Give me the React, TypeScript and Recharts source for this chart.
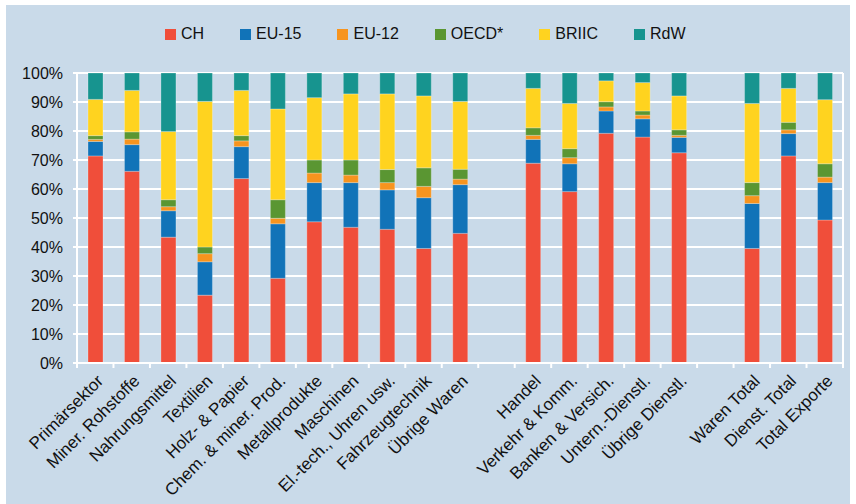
import React from "react";
import { BarChart, Bar, XAxis, YAxis, CartesianGrid, Legend } from "recharts";

const categories = [
  "Primärsektor", "Miner. Rohstoffe", "Nahrungsmittel", "Textilien", "Holz- & Papier",
  "Chem. & miner. Prod.", "Metallprodukte", "Maschinen", "El.-tech., Uhren usw.",
  "Fahrzeugtechnik", "Übrige Waren", "",
  "Handel", "Verkehr & Komm.", "Banken & Versich.", "Untern.-Dienstl.", "Übrige Dienstl.", "",
  "Waren Total", "Dienst. Total", "Total Exporte",
];

const CH = [71.4, 66.1, 43.4, 23.4, 63.6, 29.2, 48.7, 46.8, 46.1, 39.5, 44.7, null, 68.9, 59.1, 79.2, 77.9, 72.5, null, 39.5, 71.4, 49.3];
const EU15 = [5.0, 9.2, 9.1, 11.5, 11.0, 18.8, 13.5, 15.4, 13.6, 17.5, 16.8, null, 8.2, 9.6, 7.7, 6.3, 5.3, null, 15.5, 7.7, 12.9];
const EU12 = [0.7, 1.9, 1.4, 2.8, 2.0, 1.9, 3.3, 2.6, 2.5, 3.9, 1.9, null, 1.4, 2.1, 1.4, 1.3, 0.7, null, 2.7, 1.3, 1.9];
const OECD = [1.3, 2.5, 2.4, 2.3, 1.8, 6.4, 4.5, 5.2, 4.5, 6.4, 3.4, null, 2.6, 3.1, 1.8, 1.4, 1.9, null, 4.5, 2.6, 4.6];
const BRIIC = [12.5, 14.3, 23.5, 50.2, 15.6, 31.3, 21.5, 22.8, 26.1, 24.8, 23.4, null, 13.6, 15.6, 7.2, 9.8, 11.7, null, 27.3, 11.7, 22.1];
const RdW = [9.1, 6.0, 20.2, 9.8, 6.0, 12.4, 8.5, 7.2, 7.2, 7.9, 9.8, null, 5.3, 10.5, 2.7, 3.3, 7.9, null, 10.5, 5.3, 9.2];

const yTicks = [0, 10, 20, 30, 40, 50, 60, 70, 80, 90, 100];

const seriesDefs = [
  { key: "CH", label: "CH", color: "#f04e3a", values: CH },
  { key: "EU15", label: "EU-15", color: "#1173b8", values: EU15 },
  { key: "EU12", label: "EU-12", color: "#f7941e", values: EU12 },
  { key: "OECD", label: "OECD*", color: "#5a9632", values: OECD },
  { key: "BRIIC", label: "BRIIC", color: "#ffd31f", values: BRIIC },
  { key: "RdW", label: "RdW", color: "#17948f", values: RdW },
];

const data = categories.map((name, i) => {
  const row: Record<string, any> = { name };
  seriesDefs.forEach((s) => {
    row[s.key] = s.values[i];
  });
  return row;
});

const W = 856;
const H = 504;
const M = { top: 73, right: 13, left: 0, bottom: 0 };
const Y_W = 77;
const X_H = 141;
const BAND = (W - Y_W - M.right) / categories.length;
const FONT = "'Liberation Sans', Arial, Helvetica, sans-serif";

const XTick = (props: any) => {
  const { x, y, payload, index } = props;
  const label = categories[index] ?? payload.value;
  return (
    <g>
      <line x1={x - BAND / 2} x2={x - BAND / 2} y1={y} y2={y + 5} stroke="#ffffff" strokeWidth={2} />
      {index === categories.length - 1 && (
        <line x1={x + BAND / 2} x2={x + BAND / 2} y1={y} y2={y + 5} stroke="#ffffff" strokeWidth={2} />
      )}
      {label ? (
        <text
          transform={`translate(${x + 9},${y + 19}) rotate(-45)`}
          textAnchor="end"
          fontSize={17}
          fontFamily={FONT}
          fill="#111111"
        >
          {label}
        </text>
      ) : null}
    </g>
  );
};

const LegendContent = () => (
  <div style={{ display: "flex", alignItems: "center", fontFamily: FONT, fontSize: 16, color: "#111" }}>
    {seriesDefs.map((s) => (
      <div key={s.key} style={{ display: "flex", alignItems: "center", marginRight: 36 }}>
        <span style={{ display: "inline-block", width: 11, height: 11, background: s.color, marginRight: 5 }} />
        <span>{s.label}</span>
      </div>
    ))}
  </div>
);

export default function App() {
  return (
    <div style={{ position: "absolute", left: 0, top: 0, width: W, height: H, background: "#ffffff" }}>
      <div style={{ position: "absolute", left: 6, top: 5, width: 844, height: 499, background: "#c9dae9" }} />
      <div style={{ position: "absolute", left: 0, top: 0 }}>
        <BarChart width={W} height={H} data={data} margin={M}>
          <CartesianGrid
            stroke="#ffffff"
            strokeWidth={2}
            vertical={true}
            verticalCoordinatesGenerator={({ offset }: any) => [offset.left + offset.width]}
          />
          <XAxis
            dataKey="name"
            height={X_H}
            interval={0}
            tickLine={false}
            tickSize={0}
            tickMargin={0}
            axisLine={{ stroke: "#ffffff", strokeWidth: 2 }}
            tick={<XTick />}
          />
          <YAxis
            width={Y_W}
            domain={[0, 100]}
            ticks={yTicks}
            interval={0}
            tickFormatter={(v: number) => `${v}%`}
            tickSize={4}
            tickMargin={10}
            tickLine={{ stroke: "#ffffff", strokeWidth: 2 }}
            axisLine={{ stroke: "#ffffff", strokeWidth: 2 }}
            tick={{ fill: "#111111", fontSize: 16, fontFamily: FONT }}
          />
          <Legend
            verticalAlign="middle"
            align="center"
            layout="horizontal"
            content={<LegendContent />}
            wrapperStyle={{ top: 25, left: 165, width: "auto" }}
          />
          {seriesDefs.map((s) => (
            <Bar
              key={s.key}
              dataKey={s.key}
              name={s.label}
              stackId="a"
              fill={s.color}
              barSize={15}
              stroke="#ffffff"
              strokeOpacity={0.25}
              strokeWidth={1}
              isAnimationActive={false}
            />
          ))}
        </BarChart>
      </div>
    </div>
  );
}
